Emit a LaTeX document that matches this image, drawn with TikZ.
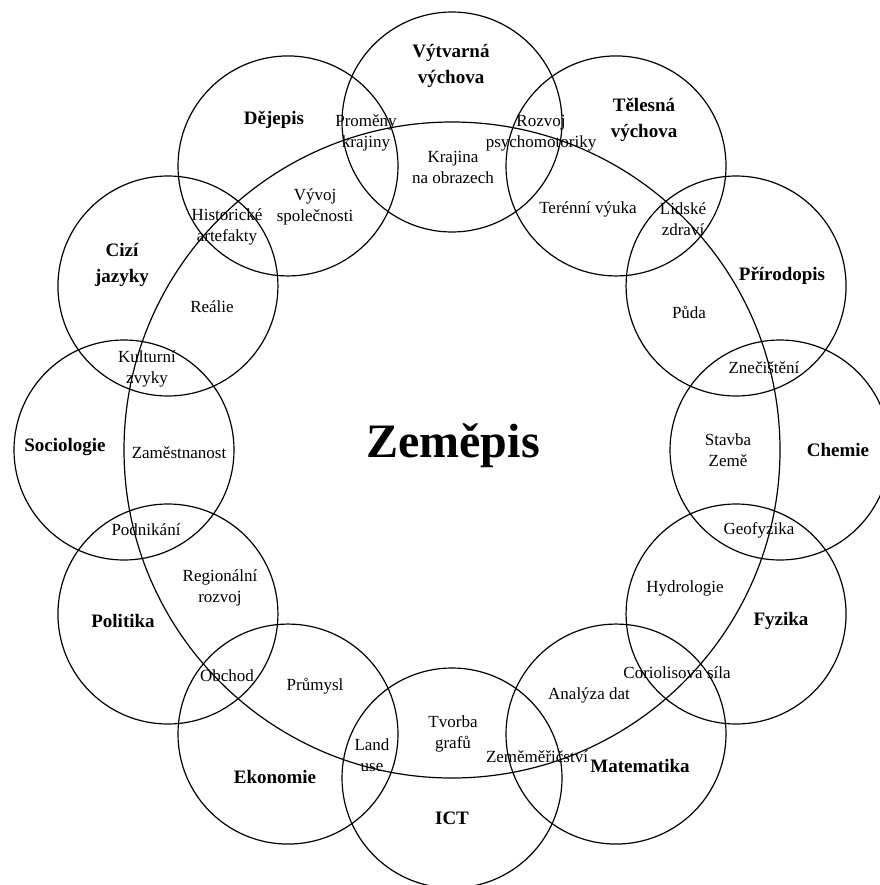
\documentclass[tikz,border=0pt]{standalone}
\usepackage{fontspec}
\setmainfont{Liberation Serif}
\tikzset{
    predmet/.style={circle, draw=black, line width=1.2pt, minimum size=220pt, inner sep=0pt},
    zemepis/.style={circle, draw=black, line width=1.2pt, minimum size=656pt, inner sep=0pt},
    nazev/.style={font=\fontsize{19}{26}\selectfont\bfseries, align=center, inner sep=0pt},
    tema/.style={font=\fontsize{17}{21}\selectfont, align=center, inner sep=0pt}
}
\begin{document}
\begin{tikzpicture}[x=1pt, y=-1pt]
        % Definice
        \def\stredx{452}
        \def\stredy{450}
        \def\polomer{328}
        \useasboundingbox (0,0) rectangle (879,885);
        % Hlavni kruh
        \node[zemepis] (zemepis) at (\stredx,\stredy) {};
        \node[font=\fontsize{48}{50}\selectfont\bfseries, anchor=base] (nadpis) at (453,457) {Zeměpis};
        % Kruhy predmetu
        \foreach \jmeno [count=\i from 0] in {vytvarna,telesna,prirodopis,chemie,fyzika,matematika,ict,ekonomie,politika,sociologie,cizi,dejepis}
            \node[predmet] (\jmeno) at ({\stredx+\polomer*cos(90-30*\i)},{\stredy-\polomer*sin(90-30*\i)}) {};
        % Nazvy predmetu
        \node[nazev] (n-vytvarna) at (451,66) {Výtvarná\\výchova};
        \node[nazev] (n-telesna) at (644,120) {Tělesná\\výchova};
        \node[nazev] (n-prirodopis) at (782,276) {Přírodopis};
        \node[nazev] (n-chemie) at (838,450) {Chemie};
        \node[nazev] (n-fyzika) at (781,621) {Fyzika};
        \node[nazev] (n-matematika) at (640,766) {Matematika};
        \node[nazev] (n-ict) at (452,818) {ICT};
        \node[nazev] (n-ekonomie) at (275,777) {Ekonomie};
        \node[nazev] (n-politika) at (123,621) {Politika};
        \node[nazev] (n-sociologie) at (65,447) {Sociologie};
        \node[nazev] (n-cizi) at (122,265) {Cizí\\jazyky};
        \node[nazev] (n-dejepis) at (274,120) {Dějepis};
        % Prunikove temata
        \node[tema] (t-promeny) at (366,133) {Proměny\\krajiny};
        \node[tema] (t-rozvoj) at (541,133) {Rozvoj\\psychomotoriky};
        \node[tema] (t-krajina) at (453,167) {Krajina\\na obrazech};
        \node[tema] (t-historicke) at (227,227) {Historické\\artefakty};
        \node[tema] (t-vyvoj) at (315,207) {Vývoj\\společnosti};
        \node[tema] (t-terenni) at (588,209) {Terénní výuka};
        \node[tema] (t-lidske) at (683,219) {Lidské\\zdraví};
        \node[tema] (t-realie) at (212,307) {Reálie};
        \node[tema] (t-puda) at (689,312) {Půda};
        \node[tema] (t-kulturni) at (147,369) {Kulturní\\zvyky};
        \node[tema] (t-znecisteni) at (764,368) {Znečištění};
        \node[tema] (t-zamestnanost) at (179,453) {Zaměstnanost};
        \node[tema] (t-stavba) at (728,450) {Stavba\\Země};
        \node[tema] (t-podnikani) at (146,530) {Podnikání};
        \node[tema] (t-geofyzika) at (759,530) {Geofyzika};
        \node[tema] (t-regionalni) at (220,588) {Regionální\\rozvoj};
        \node[tema] (t-hydrologie) at (685,588) {Hydrologie};
        \node[tema] (t-obchod) at (227,676) {Obchod};
        \node[tema] (t-prumysl) at (315,686) {Průmysl};
        \node[tema] (t-coriolis) at (677,673) {Coriolisova síla};
        \node[tema] (t-analyza) at (589,695) {Analýza dat};
        \node[tema] (t-land) at (372,755) {Land\\use};
        \node[tema] (t-tvorba) at (453,734) {Tvorba\\grafů};
        \node[tema] (t-zememerictvi) at (537,757) {Zeměměřičství};
\end{tikzpicture}
\end{document}
